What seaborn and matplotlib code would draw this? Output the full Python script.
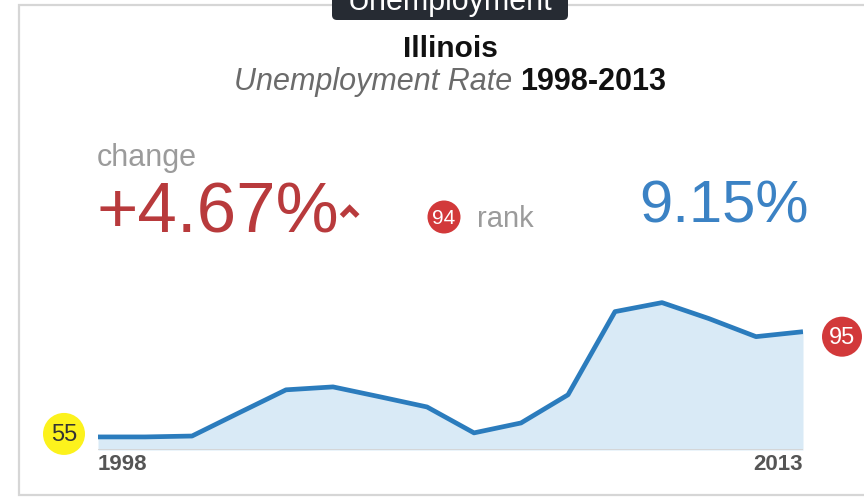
import matplotlib
matplotlib.use("Agg")
import matplotlib.pyplot as plt
from matplotlib.patches import FancyBboxPatch, Rectangle, Circle
from matplotlib.lines import Line2D
import numpy as np
import pandas as pd
import seaborn as sns

# Illinois unemployment rate, annual averages
years = [1998, 1999, 2000, 2001, 2002, 2003, 2004, 2005,
         2006, 2007, 2008, 2009, 2010, 2011, 2012, 2013]
rates = [4.48, 4.48, 4.52, 5.55, 6.57, 6.70, 6.26, 5.81,
         4.66, 5.10, 6.35, 10.04, 10.44, 9.73, 8.93, 9.15]
state = "Illinois"
tab_label = "Unemployment"
rank_change = 94
rank_start = 55
rank_end = 95

df = pd.DataFrame({"year": years, "rate": rates})

sns.set_theme(style="white")
plt.rcParams["font.family"] = ["Liberation Sans", "DejaVu Sans"]

W, H = 864, 498
fig = plt.figure(figsize=(W / 100, H / 100), dpi=100)
fig.patch.set_facecolor("white")

# background layer in pixel coordinates (y measured from the top)
bg = fig.add_axes([0, 0, 1, 1], zorder=0)
bg.set_xlim(0, W)
bg.set_ylim(H, 0)
bg.axis("off")

# card outline
bg.add_patch(Rectangle((19, 5), 900, 490, facecolor="white",
                       edgecolor="#d6d6d6", linewidth=1.6))

# line chart
LINE = "#2b7cbd"
FILL = "#d9eaf6"
ax = fig.add_axes([98 / W, (H - 450) / H, (803 - 98) / W, 160 / H], zorder=2)
ax.patch.set_alpha(0)
sns.lineplot(data=df, x="year", y="rate", ax=ax, color=LINE, linewidth=3.4,
             solid_joinstyle="round", solid_capstyle="butt")
ymin, ymax = 3.9, 11.0
ax.fill_between(df["year"], ymin, df["rate"], color=FILL, linewidth=0, zorder=0)
ax.axhline(ymin, color="#d3d3d3", linewidth=1.2, zorder=0.5)
ax.set_xlim(years[0], years[-1])
ax.set_ylim(ymin, ymax)
ax.set_xticks([])
ax.set_yticks([])
ax.set_xlabel("")
ax.set_ylabel("")
sns.despine(ax=ax, left=True, bottom=True)

# foreground layer for texts and badges
fg = fig.add_axes([0, 0, 1, 1], zorder=5)
fg.set_xlim(0, W)
fg.set_ylim(H, 0)
fg.axis("off")
fg.patch.set_alpha(0)

# dark tab at the top
fg.add_patch(FancyBboxPatch((332, -14), 236, 34,
                            boxstyle="round,pad=0,rounding_size=5",
                            facecolor="#262b33", edgecolor="none"))
fg.text(450, 10, tab_label, color="white", fontsize=22,
        ha="center", va="baseline")

# title
fg.text(450, 57, state, color="#111111", fontsize=21.5, fontweight="bold",
        ha="center", va="baseline")

# subtitle: italic grey part followed by bold period
fig.canvas.draw()
renderer = fig.canvas.get_renderer()
part1 = fg.text(0, 90, "Unemployment Rate ", color="#6b6b6b", fontsize=22,
                fontstyle="italic", ha="left", va="baseline")
part2 = fg.text(0, 90, f"{years[0]}-{years[-1]}", color="#111111", fontsize=22,
                fontweight="bold", ha="left", va="baseline")
w1 = part1.get_window_extent(renderer).width
w2 = part2.get_window_extent(renderer).width
x0 = 450 - (w1 + w2) / 2
part1.set_x(x0)
part2.set_x(x0 + w1)

# change block
RED_TXT = "#b83a3c"
RED = "#d2393a"
fg.text(97, 166, "change", color="#9b9b9b", fontsize=22,
        ha="left", va="baseline")
change = rates[-1] - rates[0]
chg = fg.text(96, 232, f"{change:+.2f}%", color=RED_TXT, fontsize=51,
              ha="left", va="baseline")
cx = 96 + chg.get_window_extent(renderer).width + 11
fg.add_line(Line2D([cx - 8, cx, cx + 8], [216, 208, 216], color=RED_TXT,
                   linewidth=3.8, solid_capstyle="butt",
                   solid_joinstyle="miter"))

fg.add_patch(Circle((444, 217), 16.5, facecolor=RED, edgecolor="none"))
fg.text(444, 218, str(rank_change), color="white", fontsize=15,
        ha="center", va="center")
fg.text(477, 227, "rank", color="#9b9b9b", fontsize=21,
        ha="left", va="baseline")

# latest value
fg.text(724, 222, f"{rates[-1]:.2f}%", color="#3b82c4", fontsize=43,
        ha="center", va="baseline")

# rank badges at both ends of the series
def to_px(x, y):
    dx, dy = ax.transData.transform((x, y))
    return dx, H - dy

sx, sy = to_px(years[0], rates[0])
fg.add_patch(Circle((sx - 34, sy - 3), 21, facecolor="#fcf21c", edgecolor="none"))
fg.text(sx - 34, sy - 2, str(rank_start), color="#333333", fontsize=17,
        ha="center", va="center")

ex, ey = to_px(years[-1], rates[-1])
fg.add_patch(Circle((ex + 39, ey + 5), 20, facecolor=RED, edgecolor="none"))
fg.text(ex + 39, ey + 6, str(rank_end), color="white", fontsize=17,
        ha="center", va="center")

# axis end labels
fg.text(98, 470, str(years[0]), color="#555555", fontsize=16,
        fontweight="bold", ha="left", va="baseline")
fg.text(803, 470, str(years[-1]), color="#555555", fontsize=16,
        fontweight="bold", ha="right", va="baseline")

fig.savefig("out.png", dpi=100)
